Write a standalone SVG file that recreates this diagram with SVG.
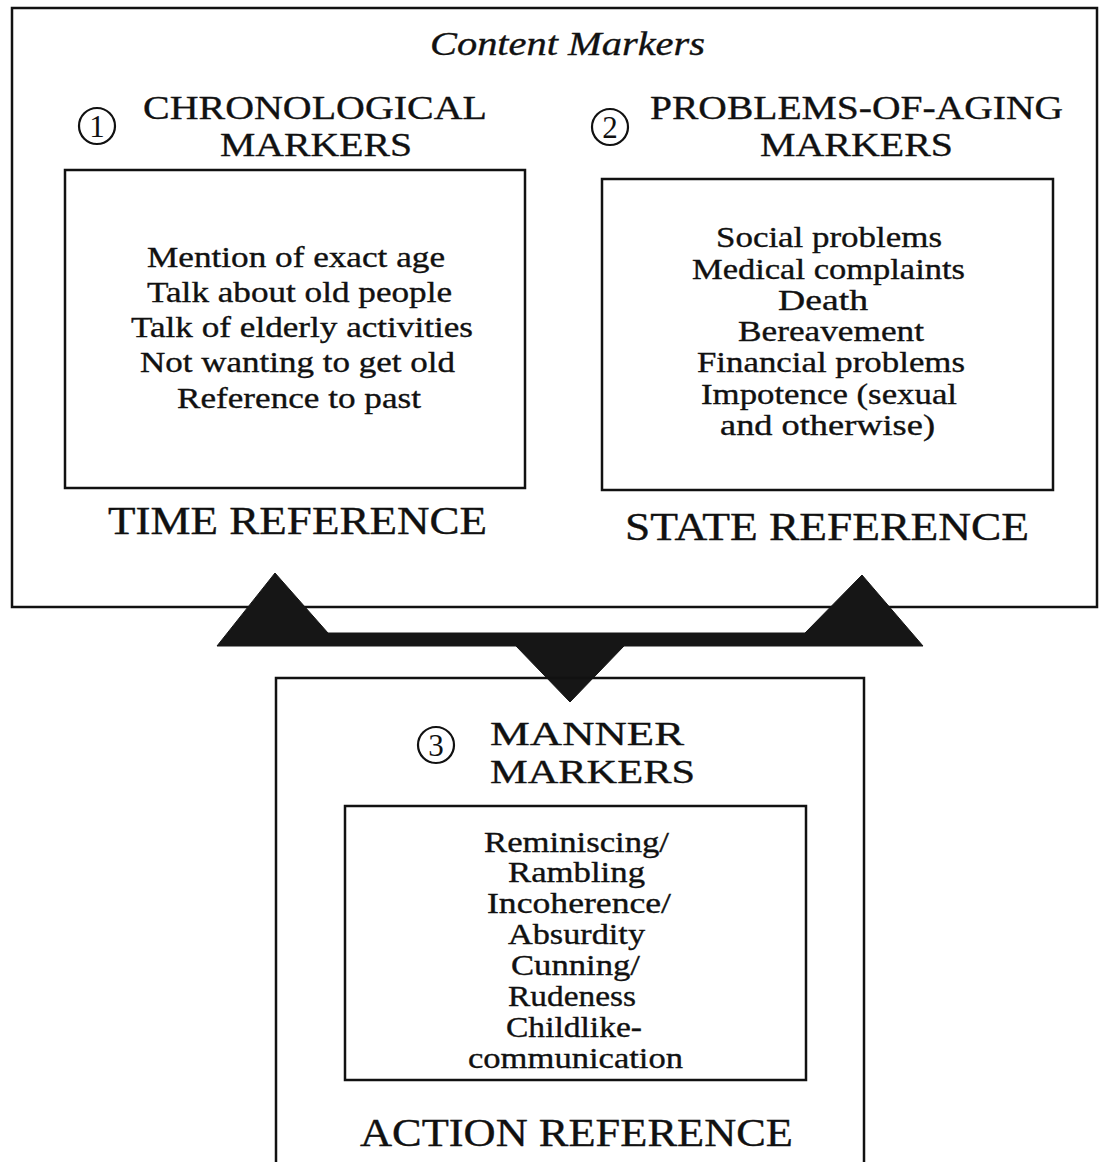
<svg xmlns="http://www.w3.org/2000/svg" width="1099" height="1162" viewBox="0 0 1099 1162">
<style>
.box{fill:none;stroke:#111;stroke-width:2.5}
.t{font-family:"Liberation Serif","Times New Roman",serif;fill:#111;stroke:#111;stroke-width:0.35}
.item{font-size:29px}
.head{font-size:34px}
.ref{font-size:39px}
.circ{fill:none;stroke:#111;stroke-width:2.2}
.num{font-family:"Liberation Serif","Times New Roman",serif;font-size:31px;fill:#111;text-anchor:middle}
.conn{fill:#161616;stroke:#161616;stroke-width:1}
</style>
<rect width="1099" height="1162" fill="#fff"/>

<g id="content-markers">
<rect class="box" x="12" y="8" width="1085" height="599"/>
<text class="t" x="430" y="55" font-size="33" font-style="italic" textLength="275" lengthAdjust="spacingAndGlyphs">Content Markers</text>
</g>

<g id="chronological">
<circle class="circ" cx="97" cy="126" r="18"/>
<text class="num" x="97" y="137">1</text>
<text class="t head" x="143" y="119" textLength="344" lengthAdjust="spacingAndGlyphs">CHRONOLOGICAL</text>
<text class="t head" x="220" y="156" textLength="192" lengthAdjust="spacingAndGlyphs">MARKERS</text>
<rect class="box" x="65" y="170" width="460" height="318"/>
<text class="t item" x="147" y="267" textLength="298" lengthAdjust="spacingAndGlyphs">Mention of exact age</text>
<text class="t item" x="147" y="302" textLength="305" lengthAdjust="spacingAndGlyphs">Talk about old people</text>
<text class="t item" x="131" y="337" textLength="342" lengthAdjust="spacingAndGlyphs">Talk of elderly activities</text>
<text class="t item" x="140" y="372" textLength="315" lengthAdjust="spacingAndGlyphs">Not wanting to get old</text>
<text class="t item" x="177" y="408" textLength="244" lengthAdjust="spacingAndGlyphs">Reference to past</text>
<text class="t ref" x="108" y="534" textLength="379" lengthAdjust="spacingAndGlyphs">TIME REFERENCE</text>
</g>

<g id="problems-of-aging">
<circle class="circ" cx="610" cy="127" r="18"/>
<text class="num" x="610" y="138">2</text>
<text class="t head" x="650" y="119" textLength="413" lengthAdjust="spacingAndGlyphs">PROBLEMS-OF-AGING</text>
<text class="t head" x="760" y="156" textLength="193" lengthAdjust="spacingAndGlyphs">MARKERS</text>
<rect class="box" x="602" y="179" width="451" height="311"/>
<text class="t item" x="716" y="247" textLength="226" lengthAdjust="spacingAndGlyphs">Social problems</text>
<text class="t item" x="692" y="279" textLength="273" lengthAdjust="spacingAndGlyphs">Medical complaints</text>
<text class="t item" x="778" y="310" textLength="90" lengthAdjust="spacingAndGlyphs">Death</text>
<text class="t item" x="738" y="341" textLength="186" lengthAdjust="spacingAndGlyphs">Bereavement</text>
<text class="t item" x="697" y="372" textLength="268" lengthAdjust="spacingAndGlyphs">Financial problems</text>
<text class="t item" x="701" y="404" textLength="256" lengthAdjust="spacingAndGlyphs">Impotence (sexual</text>
<text class="t item" x="720" y="435" textLength="215" lengthAdjust="spacingAndGlyphs">and otherwise)</text>
<text class="t ref" x="625" y="540" textLength="404" lengthAdjust="spacingAndGlyphs">STATE REFERENCE</text>
</g>

<g id="connectors">
<path class="conn" d="M217,646 L275,573 L328,633 L805,633 L862,575 L923,646 L624,646 L570,702 L516,646 Z"/>
</g>

<g id="manner">
<rect class="box" x="276" y="678" width="588" height="500"/>
<circle class="circ" cx="436" cy="745" r="18"/>
<text class="num" x="436" y="756">3</text>
<text class="t head" x="490" y="745" textLength="194" lengthAdjust="spacingAndGlyphs">MANNER</text>
<text class="t head" x="490" y="783" textLength="205" lengthAdjust="spacingAndGlyphs">MARKERS</text>
<rect class="box" x="345" y="806" width="461" height="274"/>
<text class="t item" x="484" y="852" textLength="185" lengthAdjust="spacingAndGlyphs">Reminiscing/</text>
<text class="t item" x="508" y="882" textLength="137" lengthAdjust="spacingAndGlyphs">Rambling</text>
<text class="t item" x="487" y="913" textLength="184" lengthAdjust="spacingAndGlyphs">Incoherence/</text>
<text class="t item" x="508" y="944" textLength="137" lengthAdjust="spacingAndGlyphs">Absurdity</text>
<text class="t item" x="511" y="975" textLength="129" lengthAdjust="spacingAndGlyphs">Cunning/</text>
<text class="t item" x="508" y="1006" textLength="128" lengthAdjust="spacingAndGlyphs">Rudeness</text>
<text class="t item" x="506" y="1037" textLength="136" lengthAdjust="spacingAndGlyphs">Childlike-</text>
<text class="t item" x="468" y="1068" textLength="215" lengthAdjust="spacingAndGlyphs">communication</text>
<text class="t ref" x="360" y="1146" textLength="433" lengthAdjust="spacingAndGlyphs">ACTION REFERENCE</text>
</g>
</svg>
